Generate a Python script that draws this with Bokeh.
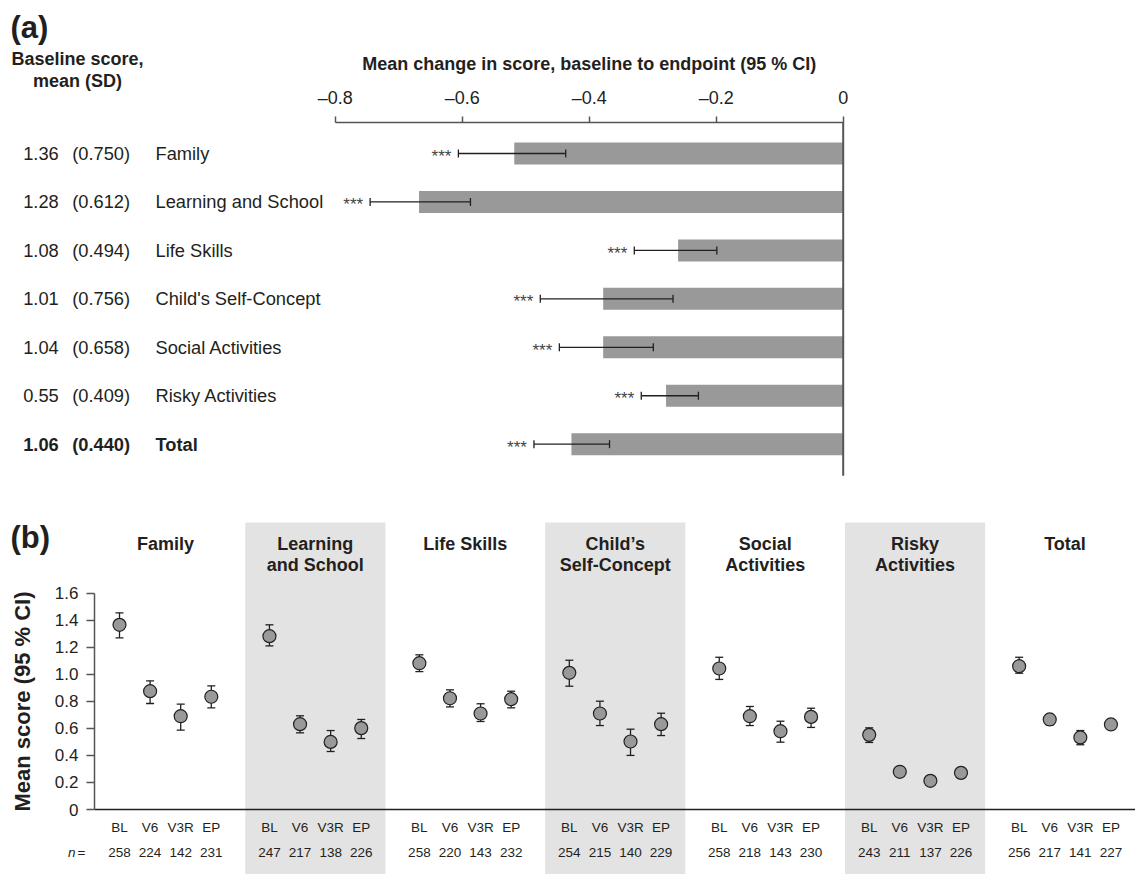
import math
from bokeh.plotting import figure
from bokeh.layouts import column
from bokeh.models import Range1d, LinearAxis, FixedTicker, CustomJSTickFormatter
from bokeh.core.properties import value
from bokeh.embed import file_html
from bokeh.resources import INLINE

FONT = "Liberation Sans"
INK = "#231f20"
BAR = "#999999"
BAND = "#e3e3e3"
AXC = "#555555"

# ---------------- data: panel (a) ----------------
domains_a = ["Family", "Learning and School", "Life Skills", "Child's Self-Concept",
             "Social Activities", "Risky Activities", "Total"]
baseline_mean = [1.36, 1.28, 1.08, 1.01, 1.04, 0.55, 1.06]
baseline_sd = [0.750, 0.612, 0.494, 0.756, 0.658, 0.409, 0.440]
mean_change = [-0.518, -0.668, -0.260, -0.378, -0.378, -0.279, -0.428]
change_lo = [-0.606, -0.745, -0.329, -0.477, -0.447, -0.318, -0.487]
change_hi = [-0.437, -0.587, -0.199, -0.268, -0.299, -0.228, -0.368]
signif = ["***", "***", "***", "***", "***", "***", "***"]
ticks_a = [-0.8, -0.6, -0.4, -0.2, 0.0]

# ---------------- data: panel (b) ----------------
domains_b = ["Family", "Learning\nand School", "Life Skills", "Child\u2019s\nSelf-Concept",
             "Social\nActivities", "Risky\nActivities", "Total"]
visits = ["BL", "V6", "V3R", "EP"]
family_m = [1.366, 0.875, 0.690, 0.834]
family_lo = [1.270, 0.784, 0.587, 0.752]
family_hi = [1.455, 0.952, 0.779, 0.915]
learning_m = [1.282, 0.631, 0.500, 0.602]
learning_lo = [1.210, 0.567, 0.429, 0.525]
learning_hi = [1.366, 0.693, 0.584, 0.666]
life_m = [1.082, 0.823, 0.710, 0.816]
life_lo = [1.020, 0.759, 0.651, 0.752]
life_hi = [1.144, 0.885, 0.782, 0.875]
child_m = [1.011, 0.710, 0.503, 0.631]
child_lo = [0.912, 0.621, 0.400, 0.547]
child_hi = [1.104, 0.801, 0.594, 0.712]
social_m = [1.043, 0.690, 0.579, 0.685]
social_lo = [0.962, 0.621, 0.498, 0.607]
social_hi = [1.126, 0.762, 0.653, 0.749]
risky_m = [0.552, 0.279, 0.212, 0.271]
risky_lo = [0.496, 0.255, 0.180, 0.245]
risky_hi = [0.604, 0.300, 0.240, 0.295]
total_m = [1.060, 0.666, 0.533, 0.629]
total_lo = [1.008, 0.625, 0.479, 0.600]
total_hi = [1.126, 0.700, 0.584, 0.655]
n_family = [258, 224, 142, 231]
n_learning = [247, 217, 138, 226]
n_life = [258, 220, 143, 232]
n_child = [254, 215, 140, 229]
n_social = [258, 218, 143, 230]
n_risky = [243, 211, 137, 226]
n_total = [256, 217, 141, 227]
ticks_b = [0.0, 0.2, 0.4, 0.6, 0.8, 1.0, 1.2, 1.4, 1.6]

means_b = [family_m, learning_m, life_m, child_m, social_m, risky_m, total_m]
lows_b = [family_lo, learning_lo, life_lo, child_lo, social_lo, risky_lo, total_lo]
highs_b = [family_hi, learning_hi, life_hi, child_hi, social_hi, risky_hi, total_hi]
ns_b = [n_family, n_learning, n_life, n_child, n_social, n_risky, n_total]

# ---------------- layout constants (page pixels) ----------------
W = 1135
HA = 482
HB = 874 - HA

PX_A = 635.0      # px per unit of change
ROW_A = 48.45     # px per row
ZERO_X = 842.7    # page x of change 0
ROW0_Y = 153.0    # page y of first row
AXIS_A_Y = 121.7  # page y of top axis line


def ax(px):
    return (px - ZERO_X) / PX_A


def ay(py):
    return -(py - ROW0_Y) / ROW_A


def setup(p):
    p.grid.visible = False
    try:
        p.frame_align = False
    except Exception:
        pass


pa = figure(width=W, height=HA, output_backend="svg", toolbar_location=None,
            x_range=Range1d(ax(0), ax(W)), y_range=Range1d(ay(HA), ay(0)),
            x_axis_location=None, y_axis_location=None, min_border=0,
            outline_line_color=None)
setup(pa)

top = LinearAxis(ticker=FixedTicker(ticks=ticks_a),
                 formatter=CustomJSTickFormatter(
                     code="return tick == 0 ? '0' : '\u2013' + Math.abs(tick).toFixed(1);"),
                 bounds=(ticks_a[0], ticks_a[-1]), fixed_location=ay(AXIS_A_Y))
top.major_tick_out = 6
top.major_tick_in = 0
top.minor_tick_line_color = None
top.axis_line_color = AXC
top.axis_line_width = 1.5
top.major_tick_line_color = AXC
top.major_tick_line_width = 1.5
top.major_label_text_font = FONT
top.major_label_text_font_size = "18px"
top.major_label_text_color = INK
top.major_label_standoff = 8
pa.add_layout(top, "above")

nA = len(domains_a)
ys = [-i for i in range(nA)]

pa.hbar(y=ys, left=mean_change, right=0, height=0.454, fill_color=BAR, line_color=None)
pa.segment(x0=[0], x1=[0], y0=[ay(AXIS_A_Y)], y1=[-(nA - 1) - 0.65],
           line_color=AXC, line_width=2)
pa.segment(x0=change_lo, x1=change_hi, y0=ys, y1=ys, line_color=INK, line_width=1.3)
pa.scatter(x=change_lo + change_hi, y=ys + ys, marker="dash", angle=math.pi / 2,
           size=8, line_color=INK, line_width=1.3)
pa.text(x=change_lo, y=ys, text=signif, x_offset=-7, y_offset=3,
        text_align="right", text_baseline="middle", text_font=value(FONT),
        text_font_size="17px", text_color="#444444")

col_x = [ax(22.7), ax(71.7), ax(155)]
for k, style in ((slice(0, nA - 1), "normal"), (slice(nA - 1, nA), "bold")):
    yy = ys[k]
    cols = [[f"{v:.2f}" for v in baseline_mean[k]],
            [f"({v:.3f})" for v in baseline_sd[k]],
            domains_a[k]]
    for cx, txt in zip(col_x, cols):
        pa.text(x=[cx] * len(yy), y=yy, text=txt, text_align="left",
                text_baseline="middle", text_font=value(FONT), text_font_size="18.3px",
                text_font_style=style, text_color=INK)

pa.text(x=[ax(10)], y=[ay(27)], text=["(a)"], text_align="left", text_baseline="middle",
        text_font=value(FONT), text_font_size="31px", text_font_style="bold",
        text_color=INK)
pa.text(x=[ax(77), ax(77)], y=[ay(58), ay(80)], text=["Baseline score,", "mean (SD)"],
        text_align="center", text_baseline="middle", text_font=value(FONT),
        text_font_size="18px", text_font_style="bold", text_color=INK)
pa.text(x=[(ticks_a[0] + ticks_a[-1]) / 2], y=[ay(63)],
        text=["Mean change in score, baseline to endpoint (95 % CI)"],
        text_align="center", text_baseline="middle", text_font=value(FONT),
        text_font_size="18px", text_font_style="bold", text_color=INK)

# ---------------- panel (b) ----------------
TOPB = HA
PX_BX = 3.06       # px per x unit (10 units between visits)
PX_BY = 135.2      # px per score unit
BL0_X = 119.0      # page x of first point
ZERO_Y = 809.0     # page y of score 0
YAXIS_X = 94.0     # page x of the y axis
GROUP_STEP = 49
VISIT_STEP = 10


def bx(px):
    return (px - BL0_X) / PX_BX


def by(py):
    return (ZERO_Y - py) / PX_BY


pb = figure(width=W, height=HB, output_backend="svg", toolbar_location=None,
            x_range=Range1d(bx(0), bx(W)), y_range=Range1d(by(TOPB + HB), by(TOPB)),
            x_axis_location=None, y_axis_location=None, min_border=0,
            outline_line_color=None)
setup(pb)

nG = len(domains_b)
nV = len(visits)
centers = [g * GROUP_STEP + (nV - 1) * VISIT_STEP / 2 for g in range(nG)]
half = 22.9
band_g = [g for g in range(nG) if g % 2 == 1]
pb.quad(left=[centers[g] - half for g in band_g], right=[centers[g] + half for g in band_g],
        bottom=by(TOPB + HB), top=by(522), fill_color=BAND, line_color=None)

yaxis = LinearAxis(ticker=FixedTicker(ticks=ticks_b),
                   formatter=CustomJSTickFormatter(
                       code="return tick == 0 ? '0' : tick.toFixed(1);"),
                   bounds=(ticks_b[0], ticks_b[-1]), fixed_location=bx(YAXIS_X))
yaxis.major_tick_out = 8
yaxis.major_tick_in = 0
yaxis.minor_tick_line_color = None
yaxis.axis_line_color = AXC
yaxis.axis_line_width = 1.5
yaxis.major_tick_line_color = AXC
yaxis.major_tick_line_width = 1.5
yaxis.major_label_text_font = FONT
yaxis.major_label_text_font_size = "17px"
yaxis.major_label_text_color = INK
yaxis.major_label_standoff = 8
pb.add_layout(yaxis, "left")

xs, ms, lo, hi, nlab, vlab = [], [], [], [], [], []
for g in range(nG):
    for i, v in enumerate(visits):
        xs.append(g * GROUP_STEP + i * VISIT_STEP)
        ms.append(means_b[g][i])
        lo.append(lows_b[g][i])
        hi.append(highs_b[g][i])
        vlab.append(v)
        nlab.append(str(ns_b[g][i]))

xaxis = LinearAxis(ticker=FixedTicker(ticks=xs),
                   major_label_overrides={x: v for x, v in zip(xs, vlab)},
                   bounds=(bx(YAXIS_X), bx(W)), fixed_location=0)
xaxis.major_tick_out = 0
xaxis.major_tick_in = 0
xaxis.major_tick_line_color = None
xaxis.minor_tick_line_color = None
xaxis.axis_line_color = INK
xaxis.axis_line_width = 1.3
xaxis.major_label_text_font = FONT
xaxis.major_label_text_font_size = "13.5px"
xaxis.major_label_text_color = INK
xaxis.major_label_standoff = 10
pb.add_layout(xaxis, "below")

pb.segment(x0=xs, x1=xs, y0=lo, y1=hi, line_color=INK, line_width=1.3)
pb.scatter(x=xs + xs, y=lo + hi, marker="dash", size=8, line_color=INK, line_width=1.3)
pb.scatter(x=xs, y=ms, marker="circle", size=13, fill_color=BAR, line_color=INK,
           line_width=1.2)

pb.text(x=xs, y=[by(852)] * len(xs), text=nlab, text_align="center",
        text_baseline="middle", text_font=value(FONT), text_font_size="13.5px",
        text_color=INK)

line1 = [d.split("\n")[0] for d in domains_b]
pb.text(x=centers, y=[by(543)] * nG, text=line1, text_align="center",
        text_baseline="middle", text_font=value(FONT), text_font_size="18px",
        text_font_style="bold", text_color=INK)
c2 = [centers[g] for g, d in enumerate(domains_b) if "\n" in d]
line2 = [d.split("\n")[1] for d in domains_b if "\n" in d]
pb.text(x=c2, y=[by(564)] * len(c2), text=line2, text_align="center",
        text_baseline="middle", text_font=value(FONT), text_font_size="18px",
        text_font_style="bold", text_color=INK)

pb.text(x=[bx(10)], y=[by(537)], text=["(b)"], text_align="left", text_baseline="middle",
        text_font=value(FONT), text_font_size="31px", text_font_style="bold",
        text_color=INK)
pb.text(x=[bx(22)], y=[by(701)], text=["Mean score (95 % CI)"], angle=math.pi / 2,
        text_align="center", text_baseline="middle", text_font=value(FONT),
        text_font_size="22px", text_font_style="bold", text_color=INK)
pb.text(x=[bx(75)], y=[by(852)], text=["n"], text_align="right", text_baseline="middle",
        text_font=value(FONT), text_font_size="13.5px", text_font_style="italic",
        text_color=INK)
pb.text(x=[bx(77)], y=[by(852)], text=["="], text_align="left", text_baseline="middle",
        text_font=value(FONT), text_font_size="13.5px", text_color=INK)

layout = column(pa, pb, spacing=0)
open("out.html", "w").write(file_html(layout, INLINE))
